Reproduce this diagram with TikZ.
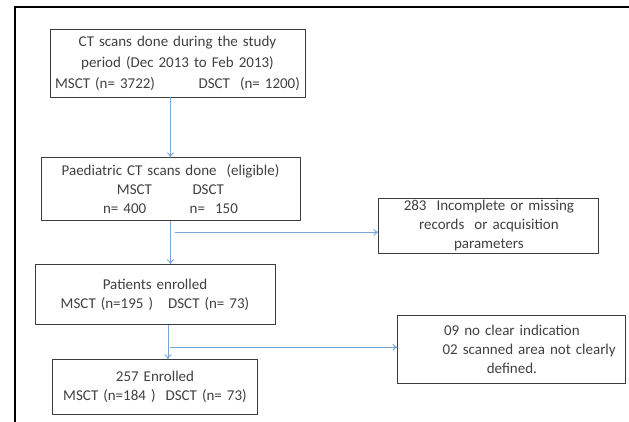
\documentclass[tikz,border=0pt]{standalone}
\usepackage{fontspec}
\setmainfont{Carlito}
\usetikzlibrary{positioning,arrows.meta}
\definecolor{flowblue}{HTML}{7AA6D6}
\definecolor{boxgray}{HTML}{3C3C3C}
\definecolor{textgray}{HTML}{404040}
\tikzset{
  box/.style={draw=boxgray, line width=0.9pt, align=center, inner xsep=3pt,
    inner ysep=2pt, text=textgray, font=\fontsize{15}{19}\selectfont},
  flow/.style={draw=flowblue, line width=0.9pt, -{To[length=5pt,width=7pt]}},
}
\begin{document}
\begin{tikzpicture}[x=1pt,y=1pt]
  \useasboundingbox (0,0) rectangle (629,422);
  % frame
  \draw[line width=2pt] (15,0) -- (15,415) -- (629,415);
  % main column
  \node (scans) [box, text width=249pt, minimum height=68pt] at (177.5,359)
    {CT scans done during the study\\[2pt] period (Dec 2013 to Feb 2013)\\[2pt]
     MSCT (n= 3722)\hspace{2.9em}DSCT~~(n= 1200)\\[12pt]};
  \node (eligible) [box, text width=253pt, minimum height=63pt,
    below=60pt of scans, xshift=-7pt]
    {Paediatric CT scans done~~(eligible)\\
     MSCT\hspace{2.7em}DSCT\\
     n= 400\hspace{2.9em}n=~~150};
  \node (enrolled) [box, text width=234pt, minimum height=60pt,
    below=43pt of eligible, xshift=-15.5pt]
    {Patients enrolled\\ MSCT (n=195 )\hspace{1em}DSCT (n= 73)};
  \node (final) [box, text width=199pt, minimum height=55pt,
    below=34pt of enrolled]
    {257 Enrolled\\ MSCT (n=184~)~~DSCT (n= 73)};
  % exclusions
  \node (missing) [box, text width=214pt, minimum height=52pt,
    right=78pt of eligible, yshift=-36.5pt]
    {283~~Incomplete or missing\\ records~~or acquisition\\ parameters};
  \node (unclear) [box, text width=222pt, minimum height=68pt,
    right=122pt of enrolled, yshift=-55pt]
    {09 no clear indication\\ \hspace*{2.3em}02 scanned area not clearly\\ defined.};
  % connectors
  \draw[flow] (scans.south -| eligible.north) -- (eligible.north);
  \draw[flow] (eligible.south) -- (eligible.south |- enrolled.north);
  \draw[flow] ([xshift=13pt]enrolled.south) -- ([xshift=13pt]enrolled.south |- final.north);
  \coordinate (split1) at ([xshift=4pt,yshift=-11pt]eligible.south);
  \coordinate (split2) at ([xshift=15pt,yshift=-22pt]enrolled.south);
  \draw[flow] (split1) -- (split1 -| missing.west);
  \draw[flow] (split2) -- (split2 -| unclear.west);
\end{tikzpicture}
\end{document}
